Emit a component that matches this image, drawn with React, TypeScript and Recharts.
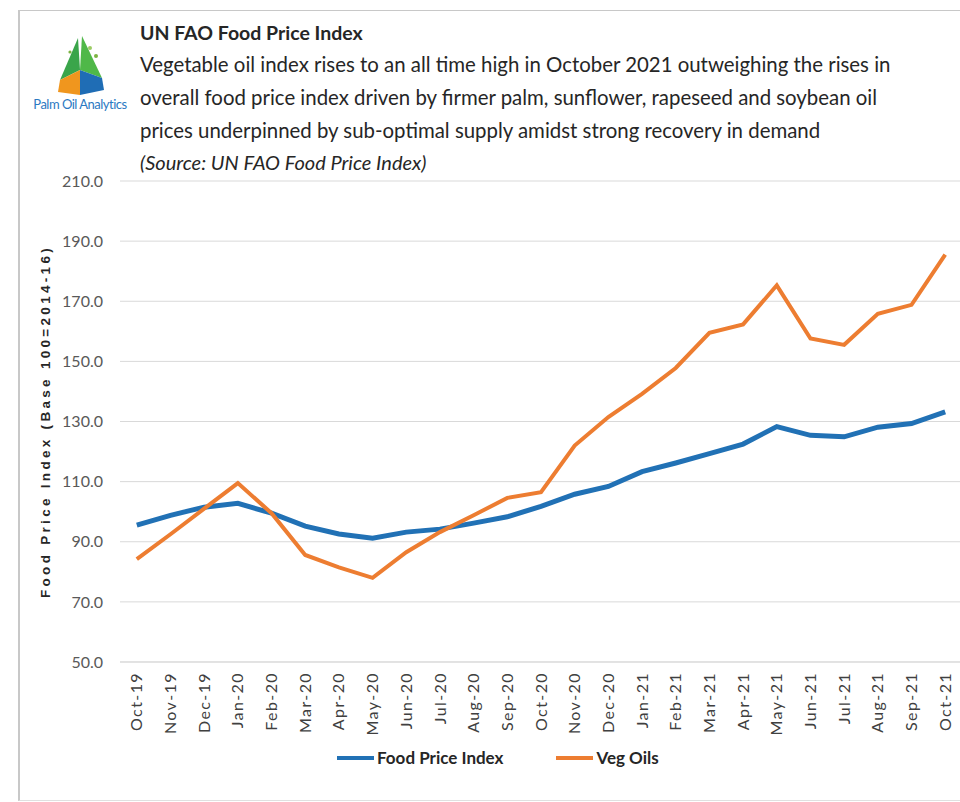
import { CartesianGrid, Legend, Line, LineChart, XAxis, YAxis } from 'recharts';

// Monthly UN FAO indices (2014-16 = 100).
const MONTHS = [
  'Oct-19', 'Nov-19', 'Dec-19', 'Jan-20', 'Feb-20', 'Mar-20', 'Apr-20', 'May-20', 'Jun-20',
  'Jul-20', 'Aug-20', 'Sep-20', 'Oct-20', 'Nov-20', 'Dec-20', 'Jan-21', 'Feb-21', 'Mar-21',
  'Apr-21', 'May-21', 'Jun-21', 'Jul-21', 'Aug-21', 'Sep-21', 'Oct-21',
];
const FOOD_PRICE_INDEX = [
  95.5, 98.8, 101.5, 102.8, 99.5, 95.2, 92.6, 91.2, 93.2, 94.2, 96.2, 98.3, 101.8,
  105.8, 108.4, 113.3, 116.2, 119.3, 122.5, 128.3, 125.4, 124.9, 128.1, 129.3, 133.2,
];
const VEG_OILS = [
  84.2, 92.5, 101.0, 109.5, 99.5, 85.6, 81.5, 78.0, 86.5, 93.2, 98.8, 104.6, 106.5,
  122.0, 131.5, 139.2, 147.8, 159.5, 162.3, 175.3, 157.6, 155.5, 165.8, 168.8, 185.5,
];
const Y_TICKS = [50, 70, 90, 110, 130, 150, 170, 190, 210];

const SUBTITLE = [
  'Vegetable oil index rises to an all time high in October 2021 outweighing the rises in',
  'overall food price index driven by firmer palm, sunflower, rapeseed and soybean oil',
  'prices underpinned by sub-optimal supply amidst strong recovery in demand',
];

const BLUE = '#2171b5';
const ORANGE = '#ed7d31';
const FONT = 'Lato, "Open Sans", sans-serif';

const data = MONTHS.map((m, i) => ({
  month: m,
  food: FOOD_PRICE_INDEX[i],
  veg: VEG_OILS[i],
}));

function XTick({ x, y, payload }: { x?: number; y?: number; payload?: { value: string } }) {
  return (
    <text
      x={x}
      y={y}
      transform={`rotate(-90 ${x} ${y})`}
      textAnchor="end"
      dy="0.35em"
      fill="#404040"
      fontSize={16}
      letterSpacing={1.4}
      fontFamily={FONT}
    >
      {payload?.value}
    </text>
  );
}

function YLabel({ viewBox }: { viewBox?: { x: number; y: number; width: number; height: number } }) {
  if (!viewBox) return null;
  const cx = viewBox.x + 45;
  const cy = viewBox.y + viewBox.height / 2;
  return (
    <text
      x={cx}
      y={cy}
      transform={`rotate(-90 ${cx} ${cy})`}
      textAnchor="middle"
      dy="0.35em"
      fill="#262626"
      fontSize={13.5}
      fontWeight={700}
      letterSpacing={3.3}
      fontFamily='"Liberation Sans", Arial, sans-serif'
    >
      Food Price Index (Base 100=2014-16)
    </text>
  );
}

function LegendContent() {
  const items = [
    { label: 'Food Price Index', color: BLUE },
    { label: 'Veg Oils', color: ORANGE },
  ];
  return (
    <div style={{ display: 'flex', gap: 53, fontFamily: FONT }}>
      {items.map((it) => (
        <div key={it.label} style={{ display: 'flex', alignItems: 'center' }}>
          <span style={{ width: 37, height: 4, background: it.color, marginRight: 3 }} />
          <span style={{ fontSize: 17, fontWeight: 700, color: '#262626' }}>{it.label}</span>
        </div>
      ))}
    </div>
  );
}

function Logo() {
  return (
    <div style={{ position: 'absolute', left: 30, top: 30, width: 100, height: 95 }}>
      <svg width={100} height={75} viewBox="0 0 100 75">
        <polygon points="48,8 30,50 50,40" fill="#3aa54a" />
        <polygon points="52,6 72,48 50,40" fill="#4fb848" />
        <polygon points="30,50 50,40 50,65 28,62" fill="#f0961e" />
        <polygon points="50,40 72,48 74,60 50,65" fill="#1f6db5" />
        <circle cx={60} cy={18} r={2} fill="#9ccc65" />
        <circle cx={66} cy={26} r={2} fill="#7cb342" />
        <circle cx={40} cy={22} r={1.6} fill="#7cb342" />
      </svg>
      <div
        style={{
          position: 'absolute',
          left: 0,
          top: 66,
          width: 100,
          textAlign: 'center',
          fontSize: 13,
          letterSpacing: -0.5,
          color: '#2b79c2',
          fontFamily: FONT,
          whiteSpace: 'nowrap',
        }}
      >
        Palm Oil Analytics
      </div>
    </div>
  );
}

export default function App() {
  return (
    <div
      style={{
        position: 'absolute',
        left: 0,
        top: 0,
        width: 960,
        height: 802,
        overflow: 'hidden',
        background: '#fff',
      }}
    >
      <div
        style={{
          position: 'absolute',
          left: 18,
          top: 10,
          width: 980,
          height: 789,
          borderTop: '1px solid #c8c8c8',
          borderBottom: '1px solid #e0e0e0',
          borderLeft: '2px solid #c8c8c8',
        }}
      />
      <Logo />
      <div
        style={{
          position: 'absolute',
          left: 140,
          top: 18,
          fontFamily: FONT,
          color: '#262626',
          whiteSpace: 'nowrap',
        }}
      >
        <div style={{ fontSize: 19.5, fontWeight: 700, lineHeight: '30px' }}>UN FAO Food Price Index</div>
        {SUBTITLE.map((line) => (
          <div key={line} style={{ fontSize: 20.4, lineHeight: '33px' }}>
            {line}
          </div>
        ))}
        <div style={{ fontSize: 20, lineHeight: '30px', fontStyle: 'italic' }}>
          (Source: UN FAO Food Price Index)
        </div>
      </div>
      <LineChart
        width={980}
        height={802}
        data={data}
        margin={{ top: 181, right: 18, bottom: 40, left: 0 }}
        style={{ position: 'absolute', left: 0, top: 0 }}
      >
        <CartesianGrid vertical={false} stroke="#d9d9d9" />
        <XAxis
          dataKey="month"
          interval={0}
          height={100}
          padding={{ left: 16.8, right: 16.8 }}
          tickLine={false}
          tickSize={0}
          tickMargin={10}
          axisLine={{ stroke: '#d9d9d9' }}
          tick={<XTick />}
        />
        <YAxis
          width={120}
          domain={[50, 210]}
          ticks={Y_TICKS}
          interval={0}
          axisLine={false}
          tickLine={false}
          tickSize={0}
          tickMargin={17}
          tickFormatter={(v: number) => v.toFixed(1)}
          tick={{ fill: '#595959', fontSize: 16, fontFamily: FONT }}
          label={<YLabel />}
        />
        <Legend
          layout="horizontal"
          verticalAlign="middle"
          align="center"
          wrapperStyle={{ top: 747, left: 337, width: 'auto' }}
          content={<LegendContent />}
        />
        <Line
          dataKey="food"
          name="Food Price Index"
          stroke={BLUE}
          strokeWidth={5}
          dot={false}
          isAnimationActive={false}
        />
        <Line
          dataKey="veg"
          name="Veg Oils"
          stroke={ORANGE}
          strokeWidth={4}
          dot={false}
          isAnimationActive={false}
        />
      </LineChart>
    </div>
  );
}
